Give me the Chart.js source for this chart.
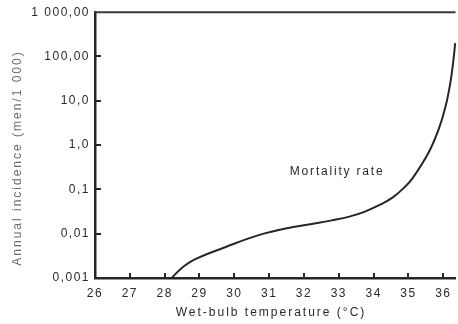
<!DOCTYPE html>
<html>
<head>
<meta charset="utf-8">
<script src="https://cdn.jsdelivr.net/npm/chart.js@4"></script>
<style>
  html, body { margin: 0; padding: 0; background: #fff; }
  #wrap { width: 458px; height: 324px; }
</style>
</head>
<body>
<div id="wrap"><canvas id="mortalityChart" width="458" height="324"></canvas></div>
<script>
// Tasa de mortalidad frente a temperatura de bulbo húmedo
const temps = [28.2, 28.5, 28.85, 29.75, 30.7, 31.65, 32.3, 32.8, 33.3, 33.75, 34.2, 34.55, 34.86, 35.12, 35.57, 35.86, 36.06, 36.2, 36.29, 36.34];
const rates = [0.001, 0.0017, 0.0026, 0.005, 0.0093, 0.014, 0.017, 0.020, 0.0243, 0.0316, 0.0457, 0.066, 0.107, 0.18, 0.66, 2.2, 7.2, 25, 83, 200];

const xTicks = [26, 27, 28, 29, 30, 31, 32, 33, 34, 35, 36];
const yTicks = [0.001, 0.01, 0.1, 1, 10, 100, 1000];
const yTickLabels = ['0,001', '0,01', '0,1', '1,0', '10,0', '100,00', '1 000,00'];

const xTitle = 'Wet-bulb temperature (°C)';
const yTitle = 'Annual incidence (men/1 000)';
const curveLabel = 'Mortality rate';
const curveLabelPos = { x: 32.95, y: 0.245 };

const ink = '#262626';
const fontFamily = '"Liberation Sans", Arial, sans-serif';

// Marcas de los ejes hacia dentro, borde superior, títulos y rótulo de la curva
const framePlugin = {
    id: 'frame',
    beforeDraw(chart) {
        chart.ctx.letterSpacing = '1.5px';
    },
    afterDraw(chart) {
        const ctx = chart.ctx;
        const area = chart.chartArea;
        const xs = chart.scales.x;
        const ys = chart.scales.y;
        ctx.save();
        ctx.strokeStyle = ink;
        ctx.lineWidth = 2;
        xTicks.slice(1).forEach(t => {
            const px = Math.round(xs.getPixelForValue(t));
            ctx.beginPath();
            ctx.moveTo(px, area.bottom);
            ctx.lineTo(px, area.bottom - 5);
            ctx.stroke();
        });
        yTicks.slice(1, -1).forEach(t => {
            const py = Math.round(ys.getPixelForValue(t));
            ctx.beginPath();
            ctx.moveTo(area.left, py);
            ctx.lineTo(area.left + 6, py);
            ctx.stroke();
        });
        // línea superior
        ctx.strokeStyle = '#3a3a3a';
        ctx.lineWidth = 2;
        ctx.beginPath();
        ctx.moveTo(area.left - 1, area.top);
        ctx.lineTo(area.right, area.top);
        ctx.stroke();

        ctx.textAlign = 'center';
        ctx.textBaseline = 'middle';
        // rótulo de la curva
        ctx.fillStyle = '#2a2a2a';
        ctx.font = '12px ' + fontFamily;
        ctx.letterSpacing = '1.8px';
        ctx.fillText(curveLabel, xs.getPixelForValue(curveLabelPos.x), ys.getPixelForValue(curveLabelPos.y));
        // título del eje x
        ctx.letterSpacing = '2px';
        ctx.fillText(xTitle, 271, 313);
        // título del eje y
        ctx.fillStyle = '#6a6a6a';
        ctx.translate(18, 158);
        ctx.rotate(-Math.PI / 2);
        ctx.fillText(yTitle, 0, 0);
        ctx.restore();
    }
};

const ctx = document.getElementById('mortalityChart').getContext('2d');
const chart = new Chart(ctx, {
    type: 'line',
    data: {
        datasets: [{
            label: curveLabel,
            data: temps.map((t, i) => ({ x: t, y: rates[i] })),
            borderColor: ink,
            borderWidth: 2,
            pointRadius: 0,
            fill: false,
            tension: 0.4
        }]
    },
    options: {
        responsive: false,
        animation: false,
        clip: false,
        layout: { padding: { top: 12, right: 0, left: 0, bottom: 0 } },
        plugins: {
            legend: { display: false },
            tooltip: { enabled: false }
        },
        scales: {
            x: {
                type: 'linear',
                min: 26,
                max: 36.35,
                afterBuildTicks: s => { s.ticks = xTicks.map(v => ({ value: v })); },
                afterFit: s => { s.height = 46; },
                grid: { display: true, drawOnChartArea: false, drawTicks: false },
                border: { display: true, color: ink, width: 2.5 },
                ticks: {
                    color: '#2a2a2a',
                    padding: 8,
                    font: { family: fontFamily, size: 12 },
                    maxRotation: 0,
                    autoSkip: false
                }
            },
            y: {
                type: 'logarithmic',
                min: 0.001,
                max: 1000,
                afterBuildTicks: s => { s.ticks = yTicks.map(v => ({ value: v })); },
                afterFit: s => { s.width = 95; },
                grid: { display: true, drawOnChartArea: false, drawTicks: false },
                border: { display: true, color: ink, width: 2.5 },
                ticks: {
                    color: '#2a2a2a',
                    padding: 5,
                    font: { family: fontFamily, size: 12 },
                    autoSkip: false,
                    callback: (v) => {
                        const i = yTicks.findIndex(t => Math.abs(t - v) / t < 1e-6);
                        return i >= 0 ? yTickLabels[i] : '';
                    }
                }
            }
        }
    },
    plugins: [framePlugin]
});
</script>
</body>
</html>
